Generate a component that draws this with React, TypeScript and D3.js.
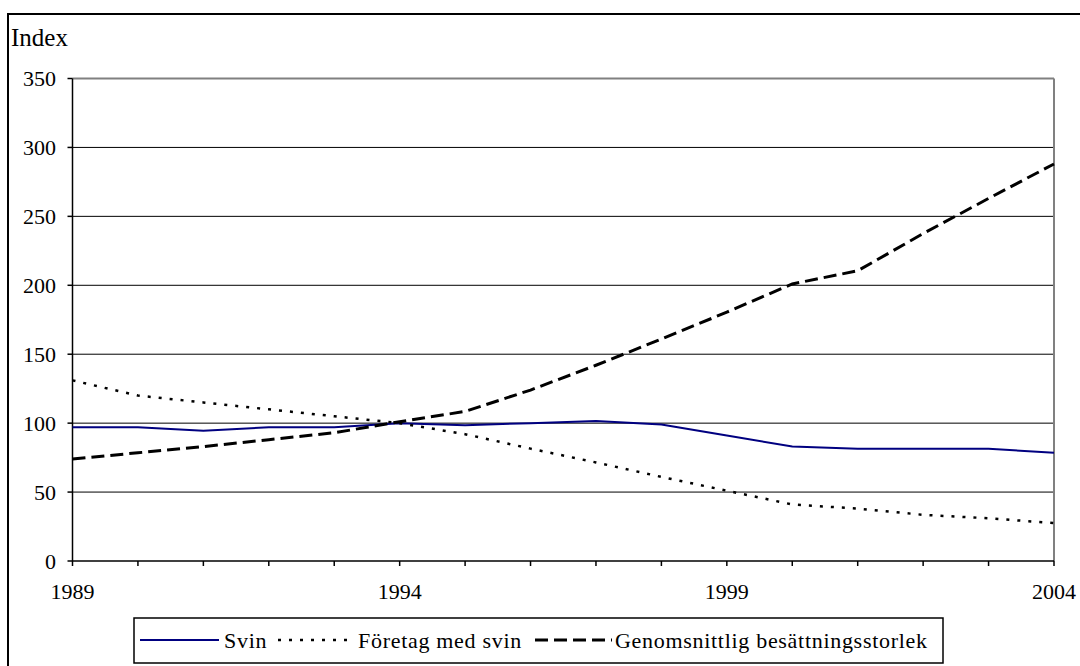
import React from "react";
import { scalePoint, scaleLinear, line } from "d3";

// Årtal (kategorier)
const years = [
  "1989", "1990", "1991", "1992", "1993", "1994", "1995", "1996",
  "1997", "1998", "1999", "2000", "2001", "2002", "2003", "2004",
];

// Serier, index 1994 = 100
const svin = [97, 97, 94.5, 97, 97, 100, 98.5, 100, 101.5, 99, 91, 83, 81.5, 81.5, 81.5, 78.5];
const foretag = [131, 120, 115, 110, 105, 100, 92, 81.5, 71.5, 61, 51, 41, 38, 33.5, 31, 27.5];
const genomsnitt = [74, 78.5, 83, 88, 93, 101, 108.5, 124, 142, 161, 180.5, 201, 210.5, 237.5, 263, 288];

const yTicks = [0, 50, 100, 150, 200, 250, 300, 350];
const xLabels = ["1989", "1994", "1999", "2004"];

const seriesNames = ["Svin", "Företag med svin", "Genomsnittlig besättningsstorlek"];

const FONT = "'Liberation Serif', 'Times New Roman', Tinos, 'DejaVu Serif', serif";

const App: React.FC = () => {
  const W = 1080;
  const H = 666;
  const left = 72.5;
  const right = 1054;
  const top = 78.5;
  const bottom = 561;

  const x = scalePoint<string>().domain(years).range([left, right]);
  const y = scaleLinear().domain([0, 350]).range([bottom, top]);

  const mkLine = line<number>()
    .x((_, i) => x(years[i])!)
    .y((d) => y(d));

  const series = [
    { name: seriesNames[0], values: svin, color: "#000080", width: 2, dash: undefined as string | undefined },
    { name: seriesNames[1], values: foretag, color: "#000", width: 2.5, dash: "3,8" },
    { name: seriesNames[2], values: genomsnitt, color: "#000", width: 3, dash: "13,6" },
  ];

  // legend layout: sample start, sample end, text start
  const legendItems = [
    { x0: 140, x1: 219, tx: 224 },
    { x0: 278, x1: 355, tx: 358 },
    { x0: 535, x1: 612, tx: 615 },
  ];

  const txt: React.CSSProperties = { fontFamily: FONT };

  return (
    <div style={{ position: "absolute", left: 0, top: 0 }}>
      <svg width={W} height={H} style={{ display: "block", background: "#fff", fontFamily: FONT }}>
        {/* yttre ram */}
        <rect x={8} y={14} width={1100} height={700} fill="none" stroke="#000" strokeWidth={2} />

        <text x={11} y={46} style={txt} fontSize={25} fill="#000">
          Index
        </text>

        {/* rutnät */}
        {yTicks.slice(1, -1).map((t) => (
          <line key={t} x1={left} x2={right} y1={y(t)} y2={y(t)} stroke="#000" strokeWidth={1} />
        ))}

        {/* plottram topp/höger */}
        <line x1={left} x2={right} y1={top} y2={top} stroke="#808080" strokeWidth={2} />
        <line x1={right} x2={right} y1={top} y2={bottom} stroke="#808080" strokeWidth={2} />

        {/* y-axel */}
        <line x1={left} x2={left} y1={top} y2={bottom} stroke="#000" strokeWidth={1.5} />
        {yTicks.map((t) => (
          <g key={t}>
            <line x1={left - 5} x2={left} y1={y(t)} y2={y(t)} stroke="#000" strokeWidth={1.5} />
            <text
              x={56}
              y={y(t)}
              dy="0.35em"
              textAnchor="end"
              style={txt}
              fontSize={22}
              fill="#000"
            >
              {t}
            </text>
          </g>
        ))}

        {/* x-axel */}
        <line x1={left} x2={right} y1={bottom} y2={bottom} stroke="#000" strokeWidth={1.5} />
        {years.map((yr) => (
          <line key={yr} x1={x(yr)} x2={x(yr)} y1={bottom} y2={bottom + 5} stroke="#000" strokeWidth={1.5} />
        ))}
        {xLabels.map((yr) => (
          <text
            key={yr}
            x={x(yr)}
            y={599}
            textAnchor="middle"
            style={txt}
            fontSize={22}
            fill="#000"
          >
            {yr}
          </text>
        ))}

        {/* serier */}
        {series.map((s) => (
          <path
            key={s.name}
            d={mkLine(s.values) ?? ""}
            fill="none"
            stroke={s.color}
            strokeWidth={s.width}
            strokeDasharray={s.dash}
          />
        ))}

        {/* förklaring */}
        <rect x={134} y={618} width={809} height={45} fill="#fff" stroke="#000" strokeWidth={1.5} />
        {series.map((s, i) => {
          const it = legendItems[i];
          return (
            <g key={s.name}>
              <line
                x1={it.x0}
                x2={it.x1}
                y1={640}
                y2={640}
                stroke={s.color}
                strokeWidth={s.width}
                strokeDasharray={s.dash}
              />
              <text x={it.tx} y={648} style={{ ...txt, letterSpacing: "0.7px" }} fontSize={22} fill="#000">
                {s.name}
              </text>
            </g>
          );
        })}
      </svg>
    </div>
  );
};

export default App;
